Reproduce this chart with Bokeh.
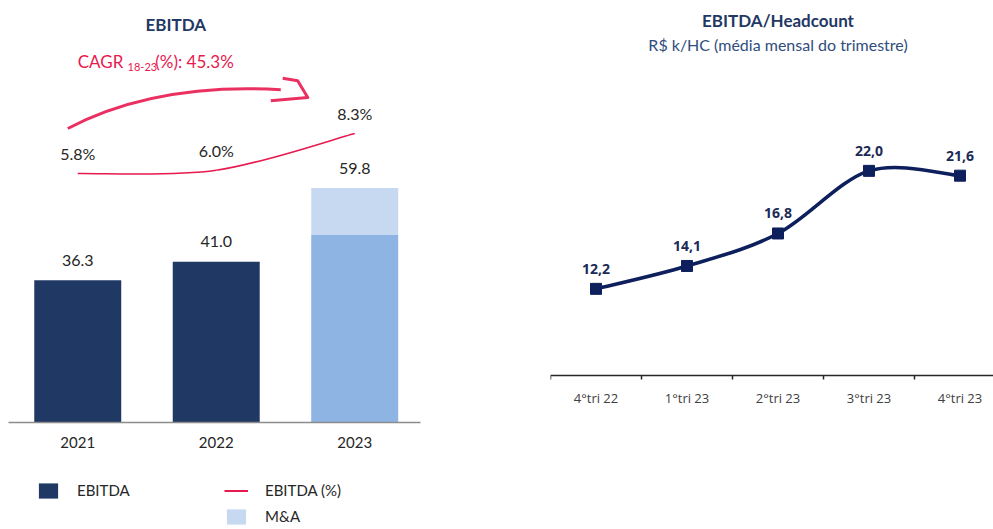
from bokeh.plotting import figure
from bokeh.layouts import row, column
from bokeh.models import (ColumnDataSource, Range1d, FixedTicker, Legend,
                          LegendItem, Label)
from bokeh.core.properties import value
from bokeh.embed import file_html
from bokeh.resources import INLINE

# ---------------- data ----------------
years = ["2021", "2022", "2023"]
ebitda = [36.3, 41.0, 47.8]          # organic EBITDA (R$ mi)
ma = [0.0, 0.0, 12.0]                # M&A contribution
ebitda_total = [36.3, 41.0, 59.8]    # total label
ebitda_pct = [5.8, 6.0, 8.3]         # EBITDA margin (%)
cagr_text = "45.3%"

quarters = ["4°tri 22", "1°tri 23", "2°tri 23", "3°tri 23", "4°tri 23"]
ebitda_hc = [12.2, 14.1, 16.8, 22.0, 21.6]

# ---------------- styles ----------------
NAVY = "#1f3864"
ORG = "#8eb4e3"
MA = "#c6d9f1"
RED = "#e8194f"
TXT = "#262626"
LINE_NAVY = "#0d1f5c"
FONT_L = "Lato"
FONT_R = "Open Sans"


def smooth(xs, ys):
    """Catmull-Rom -> cubic bezier segments through the data points."""
    n = len(xs)
    px = [xs[0]] + list(xs) + [xs[-1]]
    py = [ys[0]] + list(ys) + [ys[-1]]
    seg = dict(x0=[], y0=[], x1=[], y1=[], cx0=[], cy0=[], cx1=[], cy1=[])
    for a in range(1, n):
        b = a + 1
        seg["x0"].append(px[a]); seg["y0"].append(py[a])
        seg["x1"].append(px[b]); seg["y1"].append(py[b])
        seg["cx0"].append(px[a] + (px[b] - px[a - 1]) / 6)
        seg["cy0"].append(py[a] + (py[b] - py[a - 1]) / 6)
        seg["cx1"].append(px[b] - (px[b + 1] - px[a]) / 6)
        seg["cy1"].append(py[b] - (py[b + 1] - py[a]) / 6)
    return seg


def blank_fig(**kw):
    f = figure(output_backend="svg", toolbar_location=None,
               x_axis_location=None, y_axis_location=None,
               outline_line_color=None, min_border_left=0, min_border_right=0,
               min_border_top=0, min_border_bottom=0, **kw)
    f.grid.visible = False
    return f


# ================= LEFT : EBITDA =================
xs = list(range(len(years)))
src = ColumnDataSource(dict(
    x=xs,
    ebitda=ebitda,
    top=[e + m for e, m in zip(ebitda, ma)],
    total=ebitda_total,
    total_lbl=[f"{v:.1f}" for v in ebitda_total],
    color=[NAVY, NAVY, ORG],
    pct=ebitda_pct,
    pct_lbl=[f"{v:.1f}%" for v in ebitda_pct],
))

p1 = figure(width=540, height=460, x_range=Range1d(-0.5, 2.475),
            y_range=Range1d(0, 107.65), output_backend="svg",
            toolbar_location=None, y_axis_location=None,
            min_border_left=8, min_border_right=120, min_border_top=0,
            min_border_bottom=38, outline_line_color=None)
p1.extra_y_ranges = {"pct": Range1d(-9.76, 16.61)}
p1.grid.visible = False

ax = p1.xaxis[0]
ax.ticker = FixedTicker(ticks=xs)
ax.major_label_overrides = {i: y for i, y in enumerate(years)}
ax.major_tick_line_color = None
ax.major_tick_out = 0
ax.major_tick_in = 0
ax.minor_tick_line_color = None
ax.axis_line_color = "#8c8c8c"
ax.axis_line_width = 1.5
ax.major_label_standoff = 14
ax.major_label_text_font = FONT_L
ax.major_label_text_font_size = "15px"
ax.major_label_text_color = TXT

p1.vbar(x="x", top="ebitda", bottom=0, width=0.628, fill_color="color",
        line_color=None, source=src)
p1.vbar(x="x", bottom="ebitda", top="top", width=0.628, fill_color=MA,
        line_color=None, source=src)
p1.text(x="x", y="total", text="total_lbl", source=src, y_offset=-20,
        text_align="center", text_baseline="middle", text_color=TXT,
        text_font=value(FONT_L), text_font_size=value("16px"))

# margin line (smooth)
seg = smooth(xs, ebitda_pct)
p1.bezier(source=ColumnDataSource(seg), x0="x0", y0="y0", x1="x1", y1="y1",
          cx0="cx0", cy0="cy0", cx1="cx1", cy1="cy1", line_color=RED,
          line_width=1.6, y_range_name="pct")
p1.text(x="x", y="pct", text="pct_lbl", source=src, y_offset=-20,
        y_range_name="pct", text_align="center", text_baseline="middle",
        text_color=TXT, text_font=value(FONT_L), text_font_size=value("16px"))

# titles / CAGR annotation
p1.add_layout(Label(x=0.708, y=101.5, text="EBITDA", text_align="center",
                    text_baseline="middle", text_font=FONT_L,
                    text_font_style="bold", text_font_size="17px",
                    text_color=NAVY))
p1.add_layout(Label(x=0.0, y=92.0, text="CAGR", text_align="left",
                    text_baseline="middle", text_font=FONT_L,
                    text_font_size="17px", text_color=RED))
p1.add_layout(Label(x=0.36, y=90.6, text="18-23", text_align="left",
                    text_baseline="middle", text_font=FONT_L,
                    text_font_size="11px", text_color=RED))
p1.add_layout(Label(x=0.56, y=92.0, text=f"(%): {cagr_text}",
                    text_align="left", text_baseline="middle",
                    text_font=FONT_L, text_font_size="17px", text_color=RED))

# hand-drawn style arrow
arrow_curve = dict(x0=[-0.072], y0=[75.0], cx0=[0.31], cy0=[82.1],
                   cx1=[0.816], cy1=[86.2], x1=[1.466], y1=[84.9])
p1.bezier(source=ColumnDataSource(arrow_curve), x0="x0", y0="y0", x1="x1",
          y1="y1", cx0="cx0", cy0="cy0", cx1="cx1", cy1="cy1",
          line_color=RED, line_width=3, line_alpha=0.9)
arrow_head_x = [1.48, 1.588, 1.661, 1.394]
arrow_head_y = [87.8, 87.2, 82.9, 82.1]
p1.line(arrow_head_x, arrow_head_y, line_color=RED, line_width=3,
        line_alpha=0.9, line_join="round")

# ---------- legend strip under the left chart ----------
# proxy renderers sit outside the strip's visible range; only their legend
# glyphs are shown
pleg = blank_fig(width=540, height=69, x_range=Range1d(0, 1),
                 y_range=Range1d(0, 1))
proxy = ColumnDataSource(dict(x=[-5.0, -4.0], y=[-5.0, -4.0]))
lg_e = pleg.vbar(x="x", top="y", width=0.5, fill_color=NAVY, line_color=None,
                 source=proxy)
lg_p = pleg.line(x="x", y="y", line_color=RED, line_width=2, source=proxy)
lg_m = pleg.vbar(x="x", top="y", width=0.5, fill_color=MA, line_color=None,
                 source=proxy)
leg_style = dict(border_line_color=None, background_fill_alpha=0, padding=0,
                 margin=0, spacing=7, glyph_width=24, glyph_height=19,
                 label_standoff=17, label_height=19, label_text_font=FONT_L,
                 label_text_font_size="15px", label_text_color=TXT)
pleg.add_layout(Legend(items=[LegendItem(label="EBITDA", renderers=[lg_e])],
                       location=(28, 29.5), **leg_style), "center")
pleg.add_layout(Legend(items=[LegendItem(label="EBITDA (%)", renderers=[lg_p]),
                              LegendItem(label="M&A", renderers=[lg_m])],
                       location=(216, 3.5), **leg_style), "center")

# ================= RIGHT : EBITDA / Headcount =================
qx = list(range(len(quarters)))
src2 = ColumnDataSource(dict(x=qx, y=ebitda_hc,
                             lbl=[f"{v:.1f}".replace(".", ",") for v in ebitda_hc]))

p2 = figure(width=453, height=460, x_range=Range1d(-0.5, 4.368),
            y_range=Range1d(1.10, 36.15), output_backend="svg",
            toolbar_location=None, y_axis_location=None,
            min_border_left=10, min_border_right=0, min_border_top=0,
            min_border_bottom=38, outline_line_color=None)
p2.grid.visible = False

ax2 = p2.xaxis[0]
ax2.fixed_location = 5
ax2.ticker = FixedTicker(ticks=qx, minor_ticks=[i - 0.5 for i in qx])
ax2.major_label_overrides = {i: q for i, q in enumerate(quarters)}
ax2.major_tick_line_color = None
ax2.major_tick_out = 0
ax2.major_tick_in = 0
ax2.minor_tick_line_color = "#262626"
ax2.minor_tick_line_width = 1.5
ax2.minor_tick_out = 4
ax2.minor_tick_in = 0
ax2.axis_line_color = "#262626"
ax2.axis_line_width = 1.5
ax2.major_label_standoff = 9
ax2.major_label_text_font = FONT_R
ax2.major_label_text_font_size = "13px"
ax2.major_label_text_color = "#404040"

seg2 = smooth(qx, ebitda_hc)
p2.bezier(source=ColumnDataSource(seg2), x0="x0", y0="y0", x1="x1", y1="y1",
          cx0="cx0", cy0="cy0", cx1="cx1", cy1="cy1", line_color=LINE_NAVY,
          line_width=3.5)
p2.scatter(x="x", y="y", source=src2, marker="square", size=11,
           fill_color=LINE_NAVY, line_color=LINE_NAVY)
p2.text(x="x", y="y", text="lbl", source=src2, y_offset=-20,
        text_align="center", text_baseline="middle", text_color="#1c2a57",
        text_font=value(FONT_R), text_font_style="bold",
        text_font_size=value("14px"))

p2.add_layout(Label(x=2.0, y=34.49, text="EBITDA/Headcount",
                    text_align="center", text_baseline="middle",
                    text_font=FONT_L, text_font_style="bold",
                    text_font_size="17px", text_color=NAVY))
p2.add_layout(Label(x=2.0, y=32.49, text="R$ k/HC (média mensal do trimestre)",
                    text_align="center", text_baseline="middle",
                    text_font=FONT_L, text_font_size="16px",
                    text_color="#2f4d7d"))

layout = row(column(p1, pleg), p2)
open("out.html", "w").write(file_html(layout, INLINE))
